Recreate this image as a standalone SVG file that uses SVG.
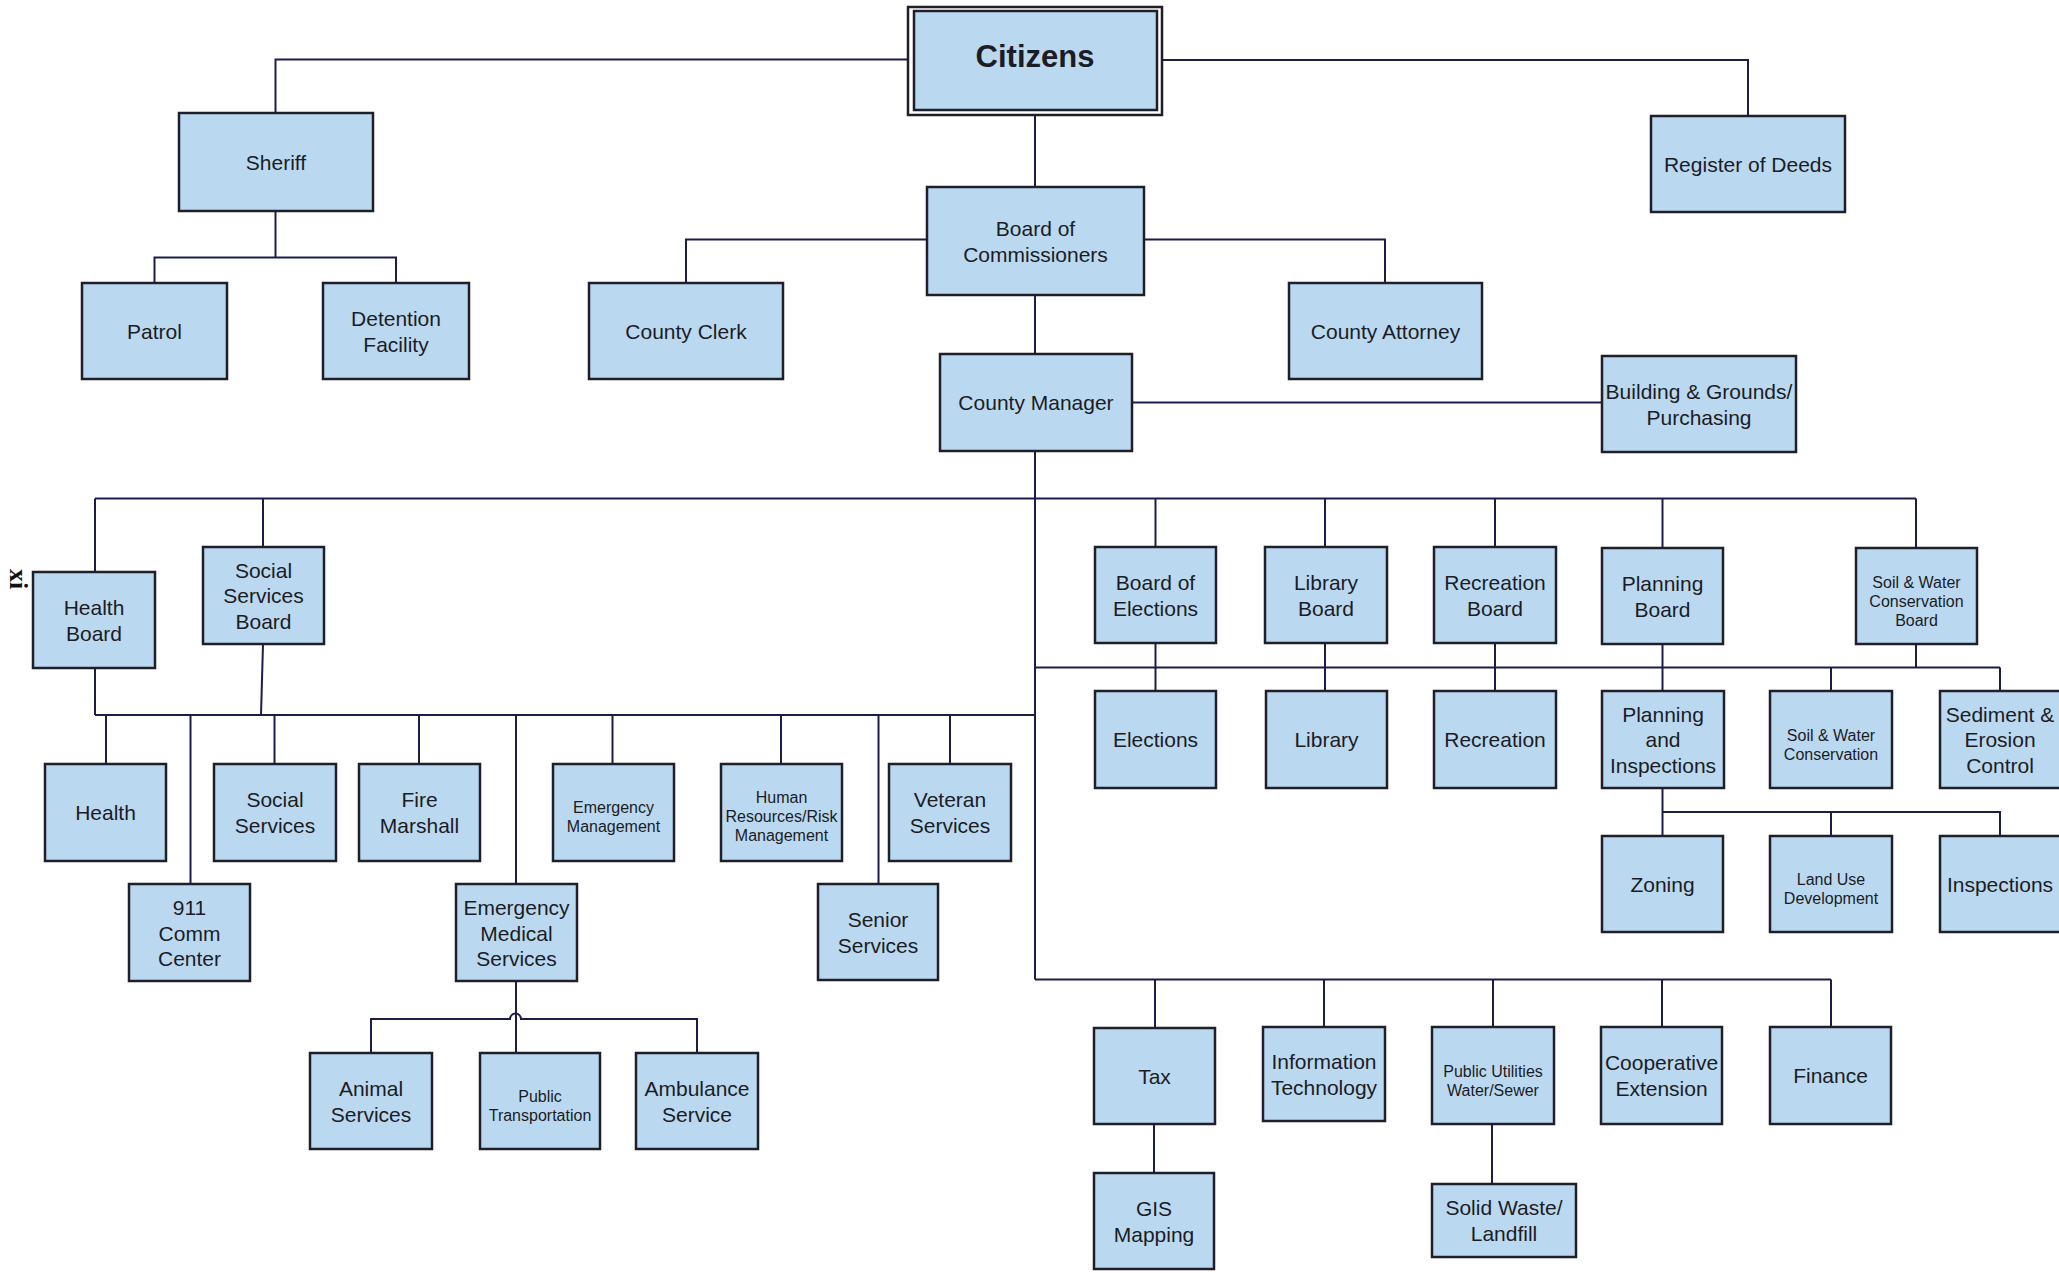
<svg xmlns="http://www.w3.org/2000/svg" width="2059" height="1273" viewBox="0 0 2059 1273">
<style>
.b{fill:#bad9f1;stroke:#1f1f2a;stroke-width:2.5}
.t{font-family:"Liberation Sans",Arial,sans-serif;font-size:21px;fill:#1c1c24;text-anchor:middle}
.s{font-family:"Liberation Sans",Arial,sans-serif;font-size:16px;fill:#1c1c24;text-anchor:middle}
.c{fill:none;stroke:#1c1c48;stroke-width:2}
</style>
<rect width="2059" height="1273" fill="#ffffff"/>
<g id="connectors" class="c">
<path d="M908,59.5 H275.5 V113"/>
<path d="M1162,60 H1748 V116"/>
<path d="M1035,115 V187"/>
<path d="M927,239.5 H686 V283"/>
<path d="M1144,239.5 H1385 V283"/>
<path d="M1035,295 V354"/>
<path d="M275.5,211 V257.5"/>
<path d="M154.5,283 V257.5 H396 V283"/>
<path d="M1132,402.5 H1602"/>
<path d="M1035,451 V979.5"/>
<path d="M95,498.5 H1916"/>
<path d="M95,498.5 V572"/>
<path d="M263,498.5 V547"/>
<path d="M1155.5,498.5 V547"/>
<path d="M1325,498.5 V547"/>
<path d="M1495,498.5 V547"/>
<path d="M1662.5,498.5 V548"/>
<path d="M1916,498.5 V548"/>
<path d="M95,668 V715"/>
<path d="M263,644 L261,715"/>
<path d="M95,715 H1035"/>
<path d="M106,715 V764"/>
<path d="M190.5,715 V884"/>
<path d="M274.5,715 V764"/>
<path d="M419,715 V764"/>
<path d="M516,715 V884"/>
<path d="M612.5,715 V764"/>
<path d="M781,715 V764"/>
<path d="M878.5,715 V884"/>
<path d="M950,715 V764"/>
<path d="M516,981 V1053"/>
<path d="M371,1053 V1019 H510 A5.5,5.5 0 0 1 521,1019 H697 V1053"/>
<path d="M1155.5,643 V691"/>
<path d="M1325,643 V691"/>
<path d="M1495,643 V691"/>
<path d="M1662.5,644 V691"/>
<path d="M1916,644 V667.5"/>
<path d="M1035,667.5 H2000"/>
<path d="M1831,667.5 V691"/>
<path d="M2000,667.5 V691"/>
<path d="M1662.5,788 V836"/>
<path d="M1662.5,812 H2000 V836"/>
<path d="M1831,812 V836"/>
<path d="M1035,979.5 H1831"/>
<path d="M1155,979.5 V1028"/>
<path d="M1324,979.5 V1027"/>
<path d="M1493,979.5 V1027"/>
<path d="M1662,979.5 V1027"/>
<path d="M1831,979.5 V1027"/>
<path d="M1154,1124 V1173"/>
<path d="M1492,1124 V1184"/>
</g>
<g id="citizens"><rect x="908" y="7" width="254" height="108" fill="#ffffff" stroke="#1f1f2a" stroke-width="2.5"/><rect class="b" x="914" y="11" width="243" height="99"/><text class="t" x="1035" y="67" style="font-size:31px;font-weight:bold">Citizens</text></g>
<g id="sheriff"><rect class="b" x="179" y="113" width="194" height="98"/><text class="t" x="276" y="169.5">Sheriff</text></g>
<g id="register-of-deeds"><rect class="b" x="1651" y="116" width="194" height="96"/><text class="t" x="1748" y="171.5">Register of Deeds</text></g>
<g id="board-of-commissioners"><rect class="b" x="927" y="187" width="217" height="108"/><text class="t" x="1035.5"><tspan x="1035.5" y="235.5">Board of</tspan><tspan x="1035.5" y="261.5">Commissioners</tspan></text></g>
<g id="patrol"><rect class="b" x="82" y="283" width="145" height="96"/><text class="t" x="154.5" y="338.5">Patrol</text></g>
<g id="detention-facility"><rect class="b" x="323" y="283" width="146" height="96"/><text class="t"><tspan x="396" y="325.5">Detention</tspan><tspan x="396" y="351.5">Facility</tspan></text></g>
<g id="county-clerk"><rect class="b" x="589" y="283" width="194" height="96"/><text class="t" x="686" y="338.5">County Clerk</text></g>
<g id="county-attorney"><rect class="b" x="1289" y="283" width="193" height="96"/><text class="t" x="1385.5" y="338.5">County Attorney</text></g>
<g id="county-manager"><rect class="b" x="940" y="354" width="192" height="97"/><text class="t" x="1036" y="410">County Manager</text></g>
<g id="building-grounds"><rect class="b" x="1602" y="356" width="194" height="96"/><text class="t"><tspan x="1699" y="398.5">Building &amp; Grounds/</tspan><tspan x="1699" y="424.5">Purchasing</tspan></text></g>
<g id="health-board"><rect class="b" x="33" y="572" width="122" height="96"/><text class="t"><tspan x="94" y="614.5">Health</tspan><tspan x="94" y="640.5">Board</tspan></text></g>
<g id="social-services-board"><rect class="b" x="203" y="547" width="121" height="97"/><text class="t"><tspan x="263.5" y="577.5">Social</tspan><tspan x="263.5" y="603">Services</tspan><tspan x="263.5" y="628.5">Board</tspan></text></g>
<g id="board-of-elections"><rect class="b" x="1095" y="547" width="121" height="96"/><text class="t"><tspan x="1155.5" y="589.5">Board of</tspan><tspan x="1155.5" y="615.5">Elections</tspan></text></g>
<g id="library-board"><rect class="b" x="1265" y="547" width="122" height="96"/><text class="t"><tspan x="1326" y="589.5">Library</tspan><tspan x="1326" y="615.5">Board</tspan></text></g>
<g id="recreation-board"><rect class="b" x="1434" y="547" width="122" height="96"/><text class="t"><tspan x="1495" y="589.5">Recreation</tspan><tspan x="1495" y="615.5">Board</tspan></text></g>
<g id="planning-board"><rect class="b" x="1602" y="548" width="121" height="96"/><text class="t"><tspan x="1662.5" y="590.5">Planning</tspan><tspan x="1662.5" y="616.5">Board</tspan></text></g>
<g id="soil-water-board"><rect class="b" x="1856" y="548" width="121" height="96"/><text class="s"><tspan x="1916.5" y="588">Soil &amp; Water</tspan><tspan x="1916.5" y="607">Conservation</tspan><tspan x="1916.5" y="626">Board</tspan></text></g>
<g id="elections"><rect class="b" x="1095" y="691" width="121" height="97"/><text class="t" x="1155.5" y="747">Elections</text></g>
<g id="library"><rect class="b" x="1266" y="691" width="121" height="97"/><text class="t" x="1326.5" y="747">Library</text></g>
<g id="recreation"><rect class="b" x="1434" y="691" width="122" height="97"/><text class="t" x="1495" y="747">Recreation</text></g>
<g id="planning-inspections"><rect class="b" x="1602" y="691" width="122" height="97"/><text class="t"><tspan x="1663" y="721.5">Planning</tspan><tspan x="1663" y="747">and</tspan><tspan x="1663" y="772.5">Inspections</tspan></text></g>
<g id="soil-water"><rect class="b" x="1770" y="691" width="122" height="97"/><text class="s"><tspan x="1831" y="741">Soil &amp; Water</tspan><tspan x="1831" y="760">Conservation</tspan></text></g>
<g id="sediment-erosion"><rect class="b" x="1940" y="691" width="122" height="97"/><text class="t"><tspan x="2000" y="721.5">Sediment &amp;</tspan><tspan x="2000" y="747">Erosion</tspan><tspan x="2000" y="772.5">Control</tspan></text></g>
<g id="zoning"><rect class="b" x="1602" y="836" width="121" height="96"/><text class="t" x="1662.5" y="891.5">Zoning</text></g>
<g id="land-use"><rect class="b" x="1770" y="836" width="122" height="96"/><text class="s"><tspan x="1831" y="885">Land Use</tspan><tspan x="1831" y="904">Development</tspan></text></g>
<g id="inspections"><rect class="b" x="1940" y="836" width="122" height="96"/><text class="t" x="2000" y="891.5">Inspections</text></g>
<g id="health"><rect class="b" x="45" y="764" width="121" height="97"/><text class="t" x="105.5" y="820">Health</text></g>
<g id="social-services"><rect class="b" x="214" y="764" width="122" height="97"/><text class="t"><tspan x="275" y="807">Social</tspan><tspan x="275" y="833">Services</tspan></text></g>
<g id="fire-marshall"><rect class="b" x="359" y="764" width="121" height="97"/><text class="t"><tspan x="419.5" y="807">Fire</tspan><tspan x="419.5" y="833">Marshall</tspan></text></g>
<g id="emergency-management"><rect class="b" x="553" y="764" width="121" height="97"/><text class="s"><tspan x="613.5" y="813">Emergency</tspan><tspan x="613.5" y="832">Management</tspan></text></g>
<g id="human-resources"><rect class="b" x="721" y="764" width="121" height="97"/><text class="s"><tspan x="781.5" y="803">Human</tspan><tspan x="781.5" y="822">Resources/Risk</tspan><tspan x="781.5" y="841">Management</tspan></text></g>
<g id="veteran-services"><rect class="b" x="889" y="764" width="122" height="97"/><text class="t"><tspan x="950" y="807">Veteran</tspan><tspan x="950" y="833">Services</tspan></text></g>
<g id="comm-center"><rect class="b" x="129" y="884" width="121" height="97"/><text class="t"><tspan x="189.5" y="915">911</tspan><tspan x="189.5" y="940.5">Comm</tspan><tspan x="189.5" y="966">Center</tspan></text></g>
<g id="ems"><rect class="b" x="456" y="884" width="121" height="97"/><text class="t"><tspan x="516.5" y="915">Emergency</tspan><tspan x="516.5" y="940.5">Medical</tspan><tspan x="516.5" y="966">Services</tspan></text></g>
<g id="senior-services"><rect class="b" x="818" y="884" width="120" height="96"/><text class="t"><tspan x="878" y="926.5">Senior</tspan><tspan x="878" y="952.5">Services</tspan></text></g>
<g id="animal-services"><rect class="b" x="310" y="1053" width="122" height="96"/><text class="t"><tspan x="371" y="1095.5">Animal</tspan><tspan x="371" y="1121.5">Services</tspan></text></g>
<g id="public-transportation"><rect class="b" x="480" y="1053" width="120" height="96"/><text class="s"><tspan x="540" y="1102">Public</tspan><tspan x="540" y="1121">Transportation</tspan></text></g>
<g id="ambulance-service"><rect class="b" x="636" y="1053" width="122" height="96"/><text class="t"><tspan x="697" y="1095.5">Ambulance</tspan><tspan x="697" y="1121.5">Service</tspan></text></g>
<g id="tax"><rect class="b" x="1094" y="1028" width="121" height="96"/><text class="t" x="1154.5" y="1083.5">Tax</text></g>
<g id="information-technology"><rect class="b" x="1263" y="1027" width="122" height="94"/><text class="t"><tspan x="1324" y="1068.5">Information</tspan><tspan x="1324" y="1094.5">Technology</tspan></text></g>
<g id="public-utilities"><rect class="b" x="1432" y="1027" width="122" height="97"/><text class="s"><tspan x="1493" y="1077">Public Utilities</tspan><tspan x="1493" y="1096">Water/Sewer</tspan></text></g>
<g id="cooperative-extension"><rect class="b" x="1601" y="1027" width="121" height="97"/><text class="t"><tspan x="1661.5" y="1070">Cooperative</tspan><tspan x="1661.5" y="1096">Extension</tspan></text></g>
<g id="finance"><rect class="b" x="1770" y="1027" width="121" height="97"/><text class="t" x="1830.5" y="1083">Finance</text></g>
<g id="gis-mapping"><rect class="b" x="1094" y="1173" width="120" height="96"/><text class="t"><tspan x="1154" y="1215.5">GIS</tspan><tspan x="1154" y="1241.5">Mapping</tspan></text></g>
<g id="solid-waste"><rect class="b" x="1432" y="1184" width="144" height="73"/><text class="t"><tspan x="1504" y="1215">Solid Waste/</tspan><tspan x="1504" y="1241">Landfill</tspan></text></g>
<text x="10" y="569" transform="rotate(90 10 569)" style="font-family:'Liberation Serif','Times New Roman',serif;font-size:26px;font-weight:bold;fill:#111">xi</text>
</svg>
